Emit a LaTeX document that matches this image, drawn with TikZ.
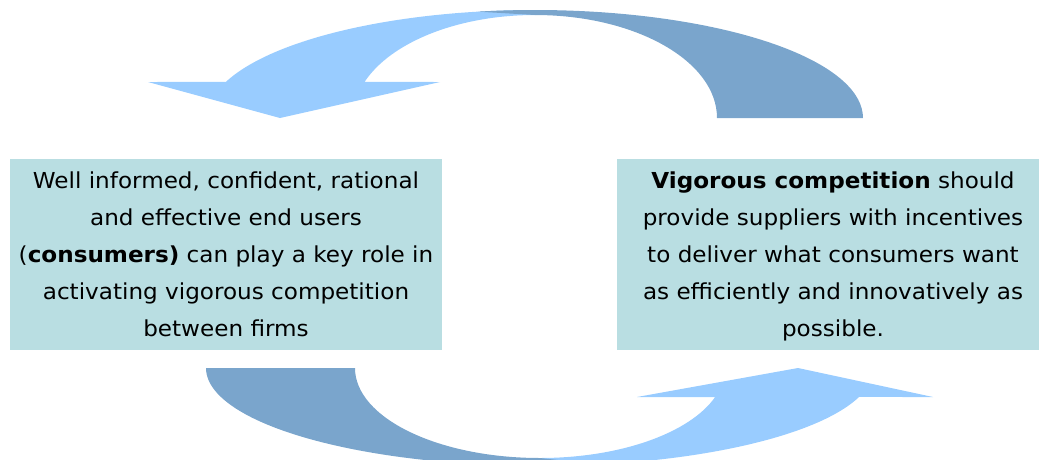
\documentclass[tikz,border=0pt]{standalone}
\usepackage{fontspec}
\setmainfont[FakeStretch=1.05]{DejaVu Sans}
\usetikzlibrary{positioning}
\definecolor{lightblue}{RGB}{153,204,255}
\definecolor{darkblue}{RGB}{122,165,204}
\definecolor{boxteal}{RGB}{185,222,226}

\begin{document}
\begin{tikzpicture}[x=1pt,y=1pt,
	box/.style={fill=boxteal,minimum width=432,minimum height=191,inner sep=0pt},
	boxtext/.style={align=center,inner sep=0pt,font=\fontsize{22}{37}\selectfont}]
	\useasboundingbox (0,0) rectangle (1039,-459);

	% centres of the two curved arrows
	\coordinate (topc) at (535,-118);
	\coordinate (botc) at (540,-368);

	% top arrow, head
	\fill[lightblue] ([shift={(90:328 and 108)}]topc) arc[start angle=90,end angle=160.5,x radius=328,y radius=108]
		-- (148,-82) -- (280,-118) -- (440,-82)
		-- ([shift={(159.5:182 and 103)}]topc) arc[start angle=159.5,end angle=90,x radius=182,y radius=103] -- cycle;
	% top arrow, tail
	\fill[darkblue] ([shift={(100:328 and 108)}]topc) arc[start angle=100,end angle=0,x radius=328,y radius=108]
		-- ([shift={(0:182 and 103)}]topc) arc[start angle=0,end angle=90,x radius=182,y radius=103] -- cycle;

	% bottom arrow, head
	\fill[lightblue] ([shift={(270:334 and 98)}]botc) arc[start angle=270,end angle=342.8,x radius=334,y radius=98]
		-- (933,-397) -- (798,-368) -- (637,-397)
		-- ([shift={(341.2:185 and 90)}]botc) arc[start angle=341.2,end angle=270,x radius=185,y radius=90] -- cycle;
	% bottom arrow, tail
	\fill[darkblue] ([shift={(180:334 and 98)}]botc) arc[start angle=180,end angle=280,x radius=334,y radius=98]
		-- ([shift={(270:185 and 90)}]botc) arc[start angle=270,end angle=180,x radius=185,y radius=90] -- cycle;

	% boxes
	\node[box] (users) at (226,-254.5) {};
	\node[box] (competition) at (833,-254.5) {};

	% texts
	\node[boxtext,below=12.3pt of users.north] (userstext)
		{Well informed, confident, rational\\and effective end users\\(\textbf{consumers)} can play a key role in\\activating vigorous competition\\between firms};
	\node[boxtext,below=12.3pt of competition.north] (competitiontext)
		{\textbf{Vigorous competition} should\\provide suppliers with incentives\\to deliver what consumers want\\as efficiently and innovatively as\\possible.};
\end{tikzpicture}
\end{document}
